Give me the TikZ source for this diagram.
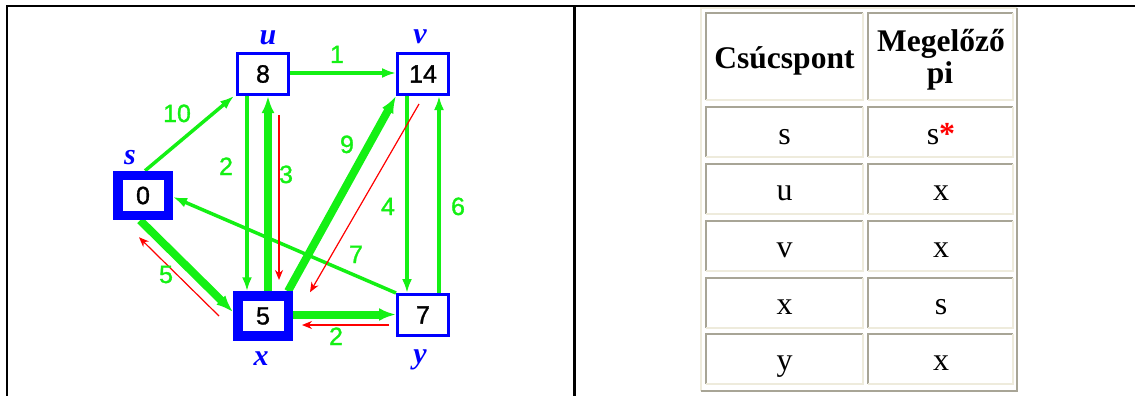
\documentclass[tikz,border=0pt]{standalone}
\usepackage{fontspec}
\setmainfont{Liberation Serif}
\newfontfamily\digitfont[FakeBold=1.2]{Liberation Sans}
\usetikzlibrary{arrows.meta,backgrounds}
\definecolor{gedge}{RGB}{20,240,20}
\definecolor{bbox}{RGB}{0,0,255}
\definecolor{rptr}{RGB}{255,0,0}
\definecolor{tgray}{RGB}{168,165,150}
\definecolor{tlight}{RGB}{238,235,220}
\newcommand\tcell[5]{%
  \coordinate (#1a) at (#2,#3);
  \coordinate (#1b) at (#4,#5);
  \draw[tgray, line width=2pt] (#1a |- #1b) -- (#1a) -- (#1a -| #1b);
  \draw[tlight, line width=2pt] (#1a -| #1b) -- (#1b) -- (#1a |- #1b);
}
\begin{document}
\begin{tikzpicture}[x=1pt,y=-1pt,
  vbox/.style={draw=bbox, fill=white, line width=3pt, minimum width=51pt, minimum height=41pt, inner sep=0pt, font=\digitfont\fontsize{25pt}{25pt}\selectfont},
  sbox/.style={vbox, line width=9.5pt, minimum width=50.5pt, minimum height=40pt},
  vname/.style={anchor=base, text=bbox, inner sep=0pt, font=\bfseries\itshape\fontsize{30pt}{30pt}\selectfont},
  wlabel/.style={anchor=base, text=gedge, inner sep=0pt, font=\digitfont\fontsize{25pt}{25pt}\selectfont},
  gthin/.style={draw=gedge, line width=3.5pt, -{Latex[length=14pt,width=10pt]}},
  gthick/.style={draw=gedge, line width=8pt, -{Latex[length=17pt,width=13pt]}},
  ptr/.style={draw=rptr, line width=1.2pt, -{Stealth[length=10pt,width=8pt]}},
  hdr/.style={anchor=base, inner sep=0pt, font=\bfseries\fontsize{31.5pt}{31.5pt}\selectfont},
  cellt/.style={anchor=base, inner sep=0pt, font=\fontsize{32pt}{32pt}\selectfont}
]
\useasboundingbox (0,0) rectangle (1135,396);
% frame
\draw[line width=2.5pt] (7,396) -- (7,6) -- (1135,6);
\draw[line width=2.5pt] (574.5,6) -- (574.5,396);

% graph nodes
\node[sbox] (s) at (143,195.5) {0};
\node[vbox] (u) at (263,74) {8};
\node[vbox] (v) at (423,74) {14};
\node[sbox] (x) at (263,316) {5};
\node[vbox] (y) at (423,315) {7};

\node[vname] (ls) at (130,164) {s};
\node[vname] (lu) at (268,45) {u};
\node[vname] (lv) at (420,44) {v};
\node[vname] (lx) at (261,365) {x};
\node[vname] (ly) at (420,363) {y};

\begin{pgfonlayer}{background}
\draw[gthin] ([xshift=2pt]s.north) -- ([xshift=-2pt]u.south west);
\draw[gthin] ([yshift=1pt]u.east) -- ([yshift=1pt]v.west);
\draw[gthin] ([xshift=-16pt]u.south) -- ([xshift=-16pt]x.north);
\draw[gthick] ([xshift=5pt]x.north) -- ([xshift=5pt]u.south);
\draw[gthick] ([xshift=-5pt]x.north east) -- (v.south west);
\draw[gthin] ([xshift=-16pt]v.south) -- ([xshift=-16pt]y.north);
\draw[gthin] ([xshift=16pt]y.north) -- ([xshift=16pt]v.south);
\draw[gthin] (y.north west) -- ([yshift=-1.5pt]s.east);
\draw[gthick] ([xshift=-3pt]s.south) -- ([yshift=4pt]x.west);
\draw[gthick] ([yshift=1.5pt]x.east) -- ([yshift=0.5pt]y.west);
\end{pgfonlayer}

% predecessor pointers
\draw[ptr, shorten <=19pt, shorten >=11.25pt] ([xshift=16pt]u.south) -- ([xshift=16pt]x.north);
\draw[ptr] ([xshift=-4pt,yshift=-8pt]v.south) -- ([xshift=47pt,yshift=-1pt]x.north);
\draw[ptr, shorten <=7pt] ([yshift=-10pt]y.west) -- ([xshift=9pt,yshift=-9pt]x.east);
\draw[ptr] ([xshift=-14pt]x.west) -- ([xshift=-4pt,yshift=-17pt]s.south);

% weights
\node[wlabel] (w10) at (177,122) {10};
\node[wlabel] (w1) at (337,63) {1};
\node[wlabel] (w2a) at (226,175) {2};
\node[wlabel] (w3) at (286,183) {3};
\node[wlabel] (w9) at (347,153) {9};
\node[wlabel] (w4) at (388,215) {4};
\node[wlabel] (w6) at (458,215) {6};
\node[wlabel] (w7) at (356,263) {7};
\node[wlabel] (w5) at (166,283) {5};
\node[wlabel] (w2b) at (336,345) {2};

% table
\draw[tlight, line width=2pt] (701,391) -- (701,8) -- (1017,8);
\draw[tgray, line width=2pt] (1017,8) -- (1017,391) -- (701,391);
\tcell{h1}{706}{13.5}{863}{100}
\tcell{h2}{868}{13.5}{1012.5}{100}
\tcell{ra1}{706}{106.5}{863}{157}
\tcell{ra2}{868}{106.5}{1012.5}{157}
\tcell{rb1}{706}{163.5}{863}{214}
\tcell{rb2}{868}{163.5}{1012.5}{214}
\tcell{rc1}{706}{220.5}{863}{271}
\tcell{rc2}{868}{220.5}{1012.5}{271}
\tcell{rd1}{706}{277.5}{863}{328}
\tcell{rd2}{868}{277.5}{1012.5}{328}
\tcell{re1}{706}{333.5}{863}{384}
\tcell{re2}{868}{333.5}{1012.5}{384}

\node[hdr] (th1) at (784.5,68) {Csúcspont};
\node[hdr] (th2) at (941,52) {Megelőző};
\node[hdr] (th3) at (940,83) {pi};

\node[cellt] (ta1) at (784.5,144) {s};
\node[cellt] (ta2) at (941,144) {s\textcolor{rptr}{\textbf{*}}};
\node[cellt] (tb1) at (784.5,200) {u};
\node[cellt] (tb2) at (941,200) {x};
\node[cellt] (tc1) at (784.5,257) {v};
\node[cellt] (tc2) at (941,257) {x};
\node[cellt] (td1) at (784.5,314) {x};
\node[cellt] (td2) at (941,314) {s};
\node[cellt] (te1) at (784.5,370) {y};
\node[cellt] (te2) at (941,370) {x};
\end{tikzpicture}
\end{document}
